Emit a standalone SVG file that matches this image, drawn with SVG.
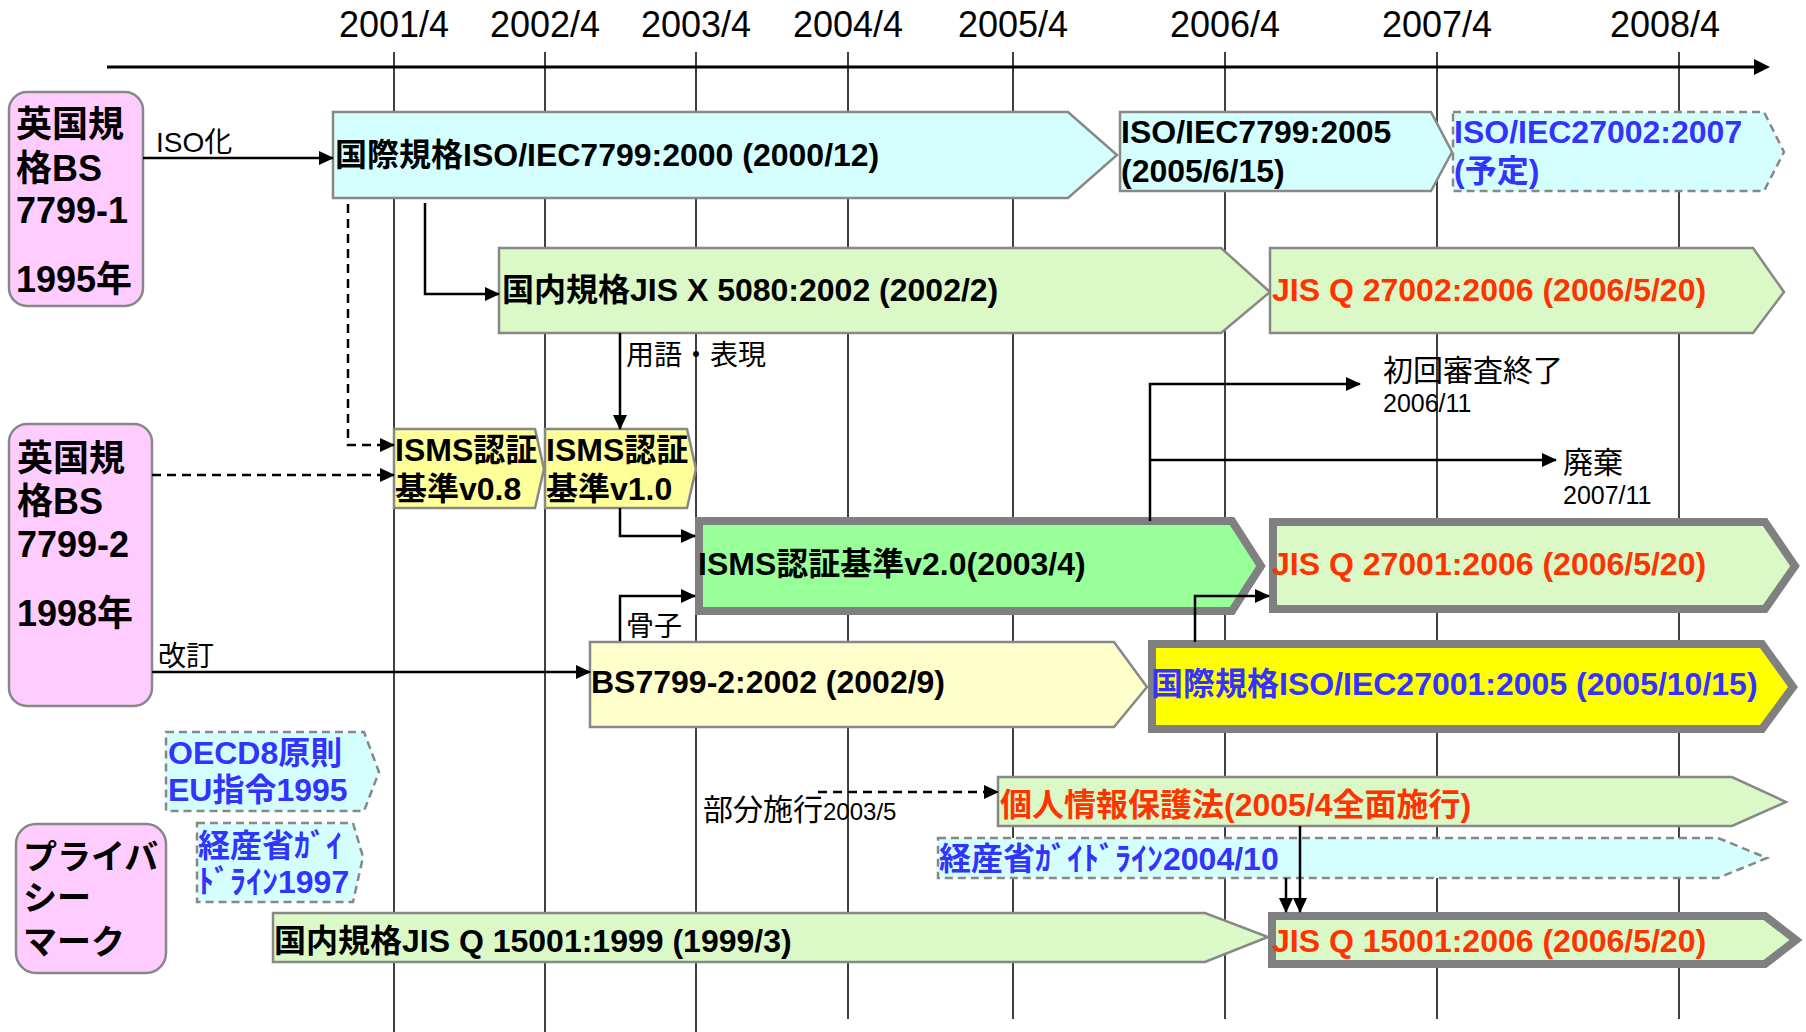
<svg xmlns="http://www.w3.org/2000/svg" width="1806" height="1032" viewBox="0 0 1806 1032">
<style>
text{font-family:"Liberation Sans","Noto Sans CJK JP",sans-serif;fill:#000}
.yr{font-size:36px;text-anchor:middle}
.pk{font-size:36px;font-weight:bold}
.bx{font-size:32px;font-weight:bold}
.lb{font-size:28px}
.lb2{font-size:30px}
.sm{font-size:25px}
.blue{fill:#3333FF}
.red{fill:#FF3300}
.grid{stroke:#000;stroke-width:1.5}
.thin{stroke:#888;stroke-width:2.5;stroke-linejoin:miter}
.thick{stroke:#808080;stroke-width:8;stroke-linejoin:miter}
.dash{stroke:#888;stroke-width:2.5;stroke-dasharray:8 5}
.cy{fill:#D5FFFF}
.lg{fill:#DBF9C7}
.pink{fill:#FFCCFF;stroke:#888;stroke-width:2.5}
.con{fill:none;stroke:#000;stroke-width:2.5;marker-end:url(#ah)}
.cond{fill:none;stroke:#000;stroke-width:2.5;stroke-dasharray:9 6;marker-end:url(#ah)}
</style>
<defs>
<marker id="ah" markerUnits="userSpaceOnUse" markerWidth="15" markerHeight="14" refX="14" refY="7" orient="auto">
<path d="M0,0 L15,7 L0,14 Z" fill="#000"/>
</marker>
</defs>
<rect width="1806" height="1032" fill="#fff"/>
<g id="grid">
<line class="grid" x1="394" y1="52" x2="394" y2="1032"/>
<line class="grid" x1="545" y1="52" x2="545" y2="1032"/>
<line class="grid" x1="696" y1="52" x2="696" y2="1032"/>
<line class="grid" x1="848" y1="52" x2="848" y2="1019"/>
<line class="grid" x1="1013" y1="52" x2="1013" y2="1019"/>
<line class="grid" x1="1225" y1="52" x2="1225" y2="1019"/>
<line class="grid" x1="1437" y1="52" x2="1437" y2="1019"/>
<line class="grid" x1="1679" y1="52" x2="1679" y2="1019"/>
<line x1="107" y1="67" x2="1756" y2="67" stroke="#000" stroke-width="3"/>
<path d="M1754,59 L1770,67 L1754,75 Z" fill="#000"/>
<text class="yr" x="394" y="37">2001/4</text>
<text class="yr" x="545" y="37">2002/4</text>
<text class="yr" x="696" y="37">2003/4</text>
<text class="yr" x="848" y="37">2004/4</text>
<text class="yr" x="1013" y="37">2005/4</text>
<text class="yr" x="1225" y="37">2006/4</text>
<text class="yr" x="1437" y="37">2007/4</text>
<text class="yr" x="1665" y="37">2008/4</text>
</g>
<g id="bs7799-1">
<rect class="pink" x="9" y="92" width="134" height="214" rx="18"/>
<text class="pk" x="16" y="137">英国規</text>
<text class="pk" x="16" y="181">格BS</text>
<text class="pk" x="16" y="223">7799-1</text>
<text class="pk" x="16" y="292">1995年</text>
</g>
<g id="bs7799-2">
<rect class="pink" x="9" y="424" width="143" height="282" rx="18"/>
<text class="pk" x="17" y="471">英国規</text>
<text class="pk" x="17" y="514">格BS</text>
<text class="pk" x="17" y="557">7799-2</text>
<text class="pk" x="17" y="626">1998年</text>
</g>
<g id="privacy">
<rect class="pink" x="16" y="824" width="150" height="149" rx="20"/>
<text class="pk" x="23" y="869" style="font-size:34px">プライバ</text>
<text class="pk" x="23" y="910" style="font-size:34px">シー</text>
<text class="pk" x="23" y="954" style="font-size:34px">マーク</text>
</g>
<g id="iso7799-2000">
<path class="thin cy" d="M333,112 H1068 L1117,155 L1068,198 H333 Z"/>
<text class="bx" x="335" y="166">国際規格ISO/IEC7799:2000 (2000/12)</text>
</g>
<g id="iso7799-2005">
<path class="thin cy" d="M1120,112 H1431 L1452,152 L1431,191 H1120 Z"/>
<text class="bx" x="1121" y="143">ISO/IEC7799:2005</text>
<text class="bx" x="1121" y="182">(2005/6/15)</text>
</g>
<g id="iso27002">
<path class="dash cy" d="M1453,112 H1764 L1784,152 L1764,191 H1453 Z"/>
<text class="bx blue" x="1454" y="143">ISO/IEC27002:2007</text>
<text class="bx blue" x="1454" y="182">(予定)</text>
</g>
<g id="jisx5080">
<path class="thin lg" d="M499,248 H1221 L1270,292 L1221,333 H499 Z"/>
<text class="bx" x="502" y="301">国内規格JIS X 5080:2002 (2002/2)</text>
</g>
<g id="jisq27002">
<path class="thin lg" d="M1270,248 H1753 L1784,292 L1753,333 H1270 Z"/>
<text class="bx red" x="1272" y="301">JIS Q 27002:2006 (2006/5/20)</text>
</g>
<g id="isms08">
<path class="thin" fill="#FFFF99" d="M394,429 H535 L544,469 L535,508 H394 Z"/>
<text class="bx" x="395" y="461">ISMS認証</text>
<text class="bx" x="395" y="500">基準v0.8</text>
</g>
<g id="isms10">
<path class="thin" fill="#FFFF99" d="M545,429 H687 L696,469 L687,508 H545 Z"/>
<text class="bx" x="546" y="461">ISMS認証</text>
<text class="bx" x="546" y="500">基準v1.0</text>
</g>
<g id="isms20">
<path class="thick" fill="#99FF99" d="M699,521 H1232 L1261,566 L1232,611 H699 Z"/>
<text class="bx" x="698" y="575">ISMS認証基準v2.0(2003/4)</text>
</g>
<g id="jisq27001">
<path class="thick lg" d="M1273,522 H1765 L1795,566 L1765,609 H1273 Z"/>
<text class="bx red" x="1272" y="575">JIS Q 27001:2006 (2006/5/20)</text>
</g>
<g id="bs7799-2-2002">
<path class="thin" fill="#FFFFCC" d="M590,642 H1114 L1147,687 L1114,727 H590 Z"/>
<text class="bx" x="591" y="693">BS7799-2:2002 (2002/9)</text>
</g>
<g id="iso27001">
<path class="thick" fill="#FFFF00" d="M1152,644 H1762 L1793,687 L1762,729 H1152 Z"/>
<text class="bx blue" x="1151" y="695">国際規格ISO/IEC27001:2005 (2005/10/15)</text>
</g>
<g id="oecd">
<path class="dash cy" d="M166,732 H364 L379,772 L364,811 H166 Z"/>
<text class="bx blue" x="168" y="764">OECD8原則</text>
<text class="bx blue" x="168" y="801">EU指令1995</text>
</g>
<g id="meti1997">
<path class="dash cy" d="M197,823 H353 L363,857 L353,902 H197 Z"/>
<text class="bx blue" x="198" y="857">経産省ｶﾞｲ</text>
<text class="bx blue" x="198" y="893">ﾄﾞﾗｲﾝ1997</text>
</g>
<g id="privacy-law">
<path class="thin lg" d="M998,777 H1732 L1786,802 L1732,826 H998 Z"/>
<text class="bx red" x="1000" y="816">個人情報保護法(2005/4全面施行)</text>
</g>
<g id="meti2004">
<path class="dash cy" d="M938,838 H1718 L1767,858 L1718,878 H938 Z"/>
<text class="bx blue" x="939" y="870">経産省ｶﾞｲﾄﾞﾗｲﾝ2004/10</text>
</g>
<g id="jisq15001-1999">
<path class="thin lg" d="M273,913 H1205 L1268,937 L1205,962 H273 Z"/>
<text class="bx" x="274" y="952">国内規格JIS Q 15001:1999 (1999/3)</text>
</g>
<g id="jisq15001-2006">
<path class="thick lg" d="M1272,916 H1765 L1796,940 L1765,964 H1272 Z"/>
<text class="bx red" x="1272" y="952">JIS Q 15001:2006 (2006/5/20)</text>
</g>
<g id="connectors">
<path class="con" d="M143,158 H333"/>
<path class="con" d="M425,203 V294 H499"/>
<path class="cond" d="M348,204 V445 H394"/>
<path class="cond" d="M152,475 H394"/>
<path class="con" d="M620,333 V429"/>
<path class="con" d="M620,508 V536 H695"/>
<path class="con" d="M620,641 V596 H695"/>
<path class="con" d="M152,672 H590"/>
<path class="con" d="M1150,521 V384 H1360"/>
<path class="con" d="M1150,460 H1556"/>
<path class="con" d="M1195,642 V596 H1269"/>
<path class="cond" d="M818,792 H998"/>
<path class="con" d="M1300,826 V912"/>
<path class="con" d="M1286,878 V912"/>
<text class="lb" x="156" y="152">ISO化</text>
<text class="lb" x="626" y="365">用語・表現</text>
<text class="lb" x="626" y="636">骨子</text>
<text class="lb" x="158" y="666">改訂</text>
<text class="lb2" x="1383" y="381">初回審査終了</text>
<text class="sm" x="1383" y="412">2006/11</text>
<text class="lb2" x="1563" y="473">廃棄</text>
<text class="sm" x="1563" y="504">2007/11</text>
<text class="lb2" x="703" y="820">部分施行<tspan style="font-size:24px">2003/5</tspan></text>
</g>
</svg>
